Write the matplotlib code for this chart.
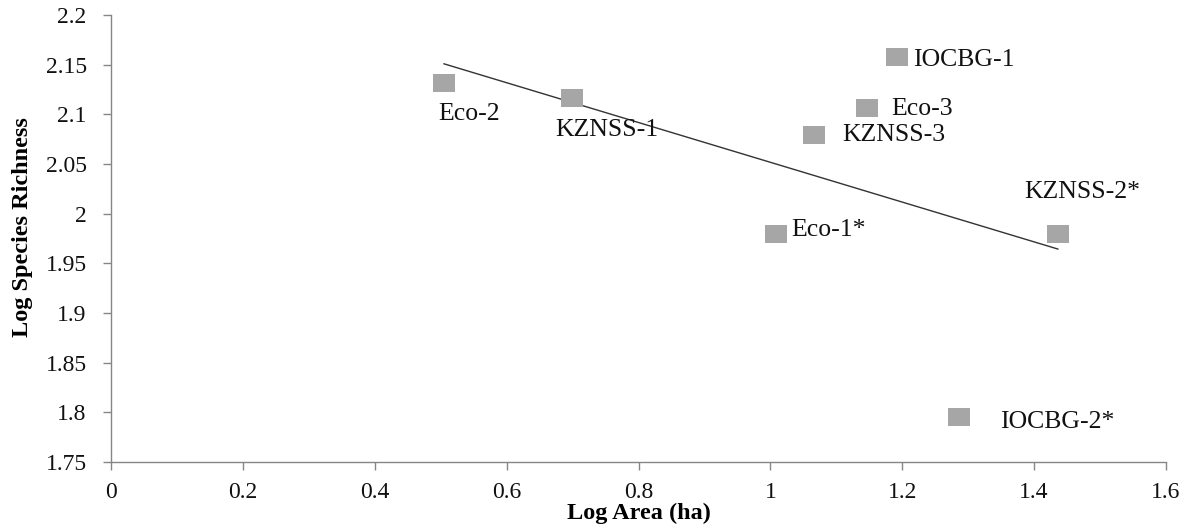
import numpy as np
import matplotlib
matplotlib.use("Agg")
import matplotlib.pyplot as plt
from matplotlib.path import Path

sites = ["Eco-2", "KZNSS-1", "Eco-1*", "KZNSS-2*", "IOCBG-2*", "IOCBG-1", "Eco-3", "KZNSS-3"]
log_area = [0.505, 0.699, 1.008, 1.436, 1.286, 1.192, 1.146, 1.066]
log_richness = [2.132, 2.116, 1.980, 1.980, 1.795, 2.158, 2.106, 2.079]
# label offsets in pixels (dx, dy) relative to marker centre
label_offsets = [(-6, -31), (-17, -32), (16, 4), (-34, 42), (41, -5), (16, -3), (25, -1), (28, 0)]

x_ticks = [0, 0.2, 0.4, 0.6, 0.8, 1.0, 1.2, 1.4, 1.6]
x_tick_labels = ["0", "0.2", "0.4", "0.6", "0.8", "1", "1.2", "1.4", "1.6"]
y_ticks = [1.75, 1.8, 1.85, 1.9, 1.95, 2.0, 2.05, 2.1, 2.15, 2.2]
y_tick_labels = ["1.75", "1.8", "1.85", "1.9", "1.95", "2", "2.05", "2.1", "2.15", "2.2"]

plt.rcParams['font.family'] = ['Liberation Serif', 'DejaVu Serif']

fig = plt.figure(figsize=(11.93, 5.28), dpi=100)
ax = fig.add_axes([111/1193, 1-462/528, (1166-111)/1193, (462-15)/528])

rect = Path([(-1, -0.8), (1, -0.8), (1, 0.8), (-1, 0.8), (-1, -0.8)], closed=True)
ax.plot(log_area, log_richness, linestyle='none', marker=rect, markersize=15.6,
        markerfacecolor='#a6a6a6', markeredgecolor='#a6a6a6', markeredgewidth=0, zorder=3)

# linear trendline
coef = np.polyfit(log_area, log_richness, 1)
xl = np.array([min(log_area), max(log_area)])
ax.plot(xl, np.polyval(coef, xl), color='#333333', linewidth=1.0, zorder=2)

for s, xv, yv, (dx, dy) in zip(sites, log_area, log_richness, label_offsets):
    ax.annotate(s, (xv, yv), xytext=(dx, dy), textcoords='offset pixels',
                ha='left', va='center', fontsize=18.5, color='#111111')

ax.set_xlim(0, 1.6)
ax.set_ylim(1.75, 2.2)
ax.set_xticks(x_ticks)
ax.set_xticklabels(x_tick_labels)
ax.set_yticks(y_ticks)
ax.set_yticklabels(y_tick_labels)

for sp in ['top', 'right']:
    ax.spines[sp].set_visible(False)
for sp in ['left', 'bottom']:
    ax.spines[sp].set_color('#868686')
    ax.spines[sp].set_linewidth(1.0)

ax.tick_params(axis='both', direction='out', length=5.5, width=1.0, color='#868686',
               labelsize=17, labelcolor='#111111')
ax.tick_params(axis='x', pad=9)
ax.tick_params(axis='y', pad=12)

ax.set_xlabel("Log Area (ha)", fontsize=17.5, fontweight='bold', labelpad=0)
ax.set_ylabel("Log Species Richness", fontsize=17.5, fontweight='bold', labelpad=9)
ax.yaxis.label.set_y(0.525)

fig.savefig("out.png", dpi=100)
